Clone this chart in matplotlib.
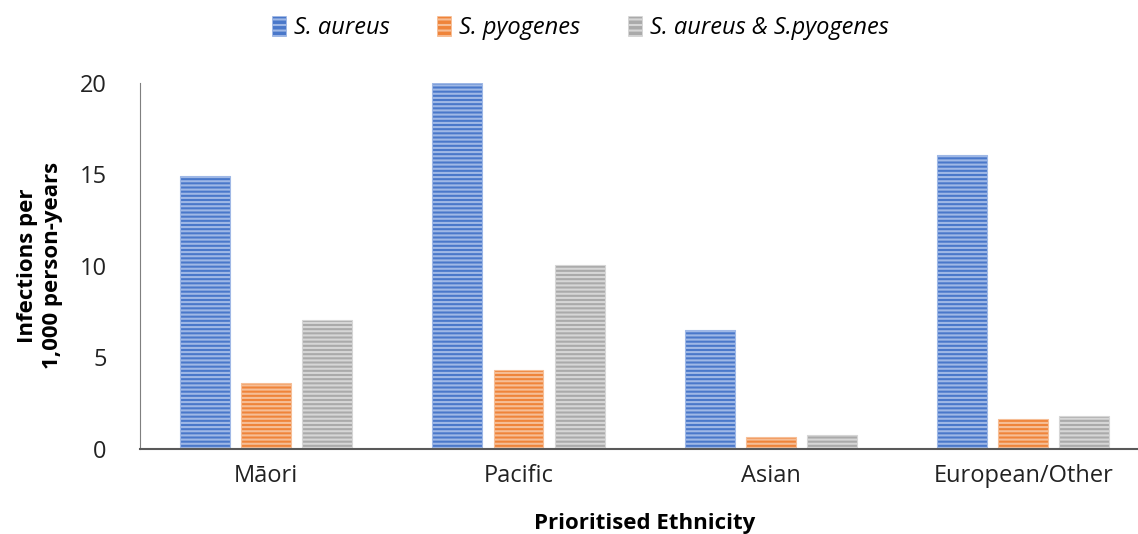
import numpy as np
import matplotlib
matplotlib.use("Agg")
import matplotlib.pyplot as plt
from matplotlib.patches import Patch

plt.rcParams['font.family'] = ['Open Sans', 'DejaVu Sans']
plt.rcParams['hatch.linewidth'] = 1.5

ethnicities = ["Māori", "Pacific", "Asian", "European/Other"]
series_names = ["S. aureus", "S. pyogenes", "S. aureus & S.pyogenes"]
s_aureus = [14.9, 20.0, 6.5, 16.05]
s_pyogenes = [3.6, 4.3, 0.65, 1.6]
both = [7.05, 10.05, 0.75, 1.8]

# base colour and lighter stripe colour per series
fills = ["#4A78CA", "#EF843A", "#AAAAAA"]
stripes = ["#9FB8E6", "#F6BE96", "#D6D6D6"]

fig = plt.figure(figsize=(11.38, 5.34), dpi=100)
ax = fig.add_axes([0.123, 0.16, 0.887, 0.685])

x = np.arange(len(ethnicities))
width = 0.198
offset = 0.242
for i, vals in enumerate([s_aureus, s_pyogenes, both]):
    ax.bar(x + (i - 1) * offset, vals, width, color=fills[i],
           edgecolor=stripes[i], linewidth=0.8, hatch="----")

ax.set_xlim(-0.5, 3.5)
ax.set_ylim(0, 20)
ax.set_yticks([0, 5, 10, 15, 20])
ax.set_xticks(x)
ax.set_xticklabels(ethnicities)
ax.tick_params(axis="both", length=0, labelsize=17, colors="#222222")
ax.tick_params(axis="x", pad=11)
ax.tick_params(axis="y", pad=24)

for side in ["top", "right"]:
    ax.spines[side].set_visible(False)
ax.spines["left"].set_color("#7F7F7F")
ax.spines["bottom"].set_color("#595959")
ax.spines["bottom"].set_linewidth(1.5)

ax.set_ylabel("Infections per\n1,000 person-years", fontsize=16,
              fontweight="bold", labelpad=12, linespacing=1.25)
ax.set_xlabel("Prioritised Ethnicity", fontsize=16, fontweight="bold",
              labelpad=18)

handles = [Patch(facecolor=fills[i], edgecolor=stripes[i], hatch="---",
                 linewidth=0.5) for i in range(3)]
fig.legend(handles, series_names, loc="upper center",
           bbox_to_anchor=(0.51, 1.01), ncol=3, frameon=False,
           prop={"style": "italic", "size": 17}, handlelength=0.6,
           handleheight=0.9, handletextpad=0.35, columnspacing=2.0)

fig.savefig("out.png", dpi=100)
